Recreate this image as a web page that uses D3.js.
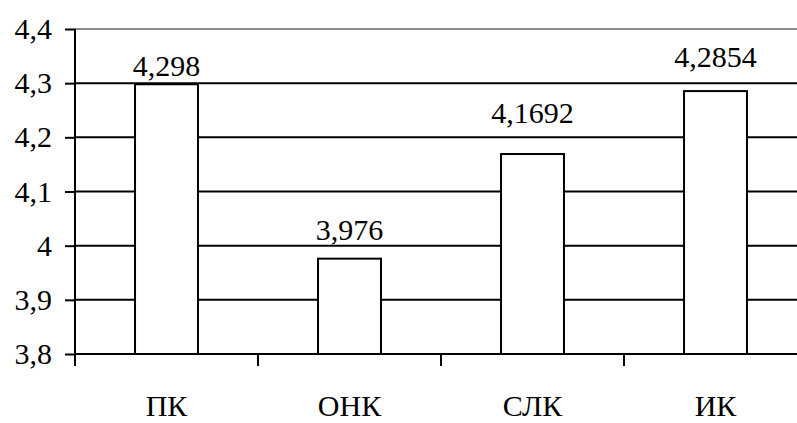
<!DOCTYPE html>
<html>
<head>
<meta charset="utf-8">
<script src="https://cdn.jsdelivr.net/npm/d3@7/dist/d3.min.js"></script>
<style>
  html, body { margin: 0; padding: 0; background: #fff; }
  svg { display: block; }
</style>
</head>
<body>
<div id="chart"></div>
<script>
// Chart data
const categories = ["ПК", "ОНК", "СЛК", "ИК"];
const values = [4.298, 3.976, 4.1692, 4.2854];
const valueLabels = ["4,298", "3,976", "4,1692", "4,2854"];
const yTicks = [3.8, 3.9, 4.0, 4.1, 4.2, 4.3, 4.4];
const yTickLabels = ["3,8", "3,9", "4", "4,1", "4,2", "4,3", "4,4"];

// Layout: how far each value label sits above its bar top (px)
const labelLift = [8, 19, 31, 24];

const FONT = "'Liberation Serif', 'Times New Roman', Times, serif";
const W = 797, H = 423;
const plotLeft = 75, plotRight = 807, plotTop = 29, plotBottom = 354;

const svg = d3.select("#chart").append("svg")
  .attr("width", W).attr("height", H)
  .style("font-family", FONT);

const x = d3.scaleBand().domain(categories).range([plotLeft, plotRight])
  .paddingInner(0.656).paddingOuter(0.328);
const y = d3.scaleLinear().domain([3.8, 4.4]).range([plotBottom, plotTop]);

// Horizontal gridlines (the top one is lighter)
svg.append("g").selectAll("line").data(yTicks.slice(1)).join("line")
  .attr("x1", plotLeft).attr("x2", plotRight)
  .attr("y1", d => y(d)).attr("y2", d => y(d))
  .attr("stroke", (d, i, a) => i === a.length - 1 ? "#8a8a8a" : "#000")
  .attr("stroke-width", 2);

// Bars
svg.append("g").selectAll("rect").data(values).join("rect")
  .attr("x", (d, i) => x(categories[i]))
  .attr("width", x.bandwidth())
  .attr("y", d => y(d))
  .attr("height", d => y(3.8) - y(d))
  .attr("fill", "#fff")
  .attr("stroke", "#000")
  .attr("stroke-width", 2);

// Value labels
svg.append("g").selectAll("text").data(values).join("text")
  .attr("x", (d, i) => x(categories[i]) + x.bandwidth() / 2)
  .attr("y", (d, i) => y(d) - labelLift[i])
  .attr("text-anchor", "middle")
  .style("font-family", FONT)
  .style("font-size", "30px")
  .text((d, i) => valueLabels[i]);

// Y axis
const yAxis = d3.axisLeft(y).tickValues(yTicks)
  .tickFormat((d, i) => yTickLabels[i]).tickSize(10).tickPadding(13);
const gy = svg.append("g").attr("transform", `translate(${plotLeft},0)`).call(yAxis);
gy.select(".domain").attr("stroke", "#000").attr("stroke-width", 2)
  .attr("d", `M0,${plotTop}V${plotBottom + 12}`);
gy.selectAll(".tick line").attr("stroke", "#000").attr("stroke-width", 2);
gy.selectAll(".tick text").attr("fill", "#000")
  .style("font-family", FONT).style("font-size", "30px");

// X axis: baseline with tick marks at category boundaries
const step = x.step();
const boundaries = d3.range(categories.length + 1).map(i => plotLeft + i * step);
svg.append("line").attr("x1", plotLeft).attr("x2", plotRight)
  .attr("y1", plotBottom).attr("y2", plotBottom)
  .attr("stroke", "#000").attr("stroke-width", 2);
svg.append("g").selectAll("line").data(boundaries).join("line")
  .attr("x1", d => d).attr("x2", d => d)
  .attr("y1", plotBottom).attr("y2", plotBottom + 12)
  .attr("stroke", "#000").attr("stroke-width", 2);

// Category labels
svg.append("g").selectAll("text").data(categories).join("text")
  .attr("x", d => x(d) + x.bandwidth() / 2)
  .attr("y", 416)
  .attr("text-anchor", "middle")
  .style("font-family", FONT)
  .style("font-size", "30px")
  .text(d => d);
</script>
</body>
</html>
